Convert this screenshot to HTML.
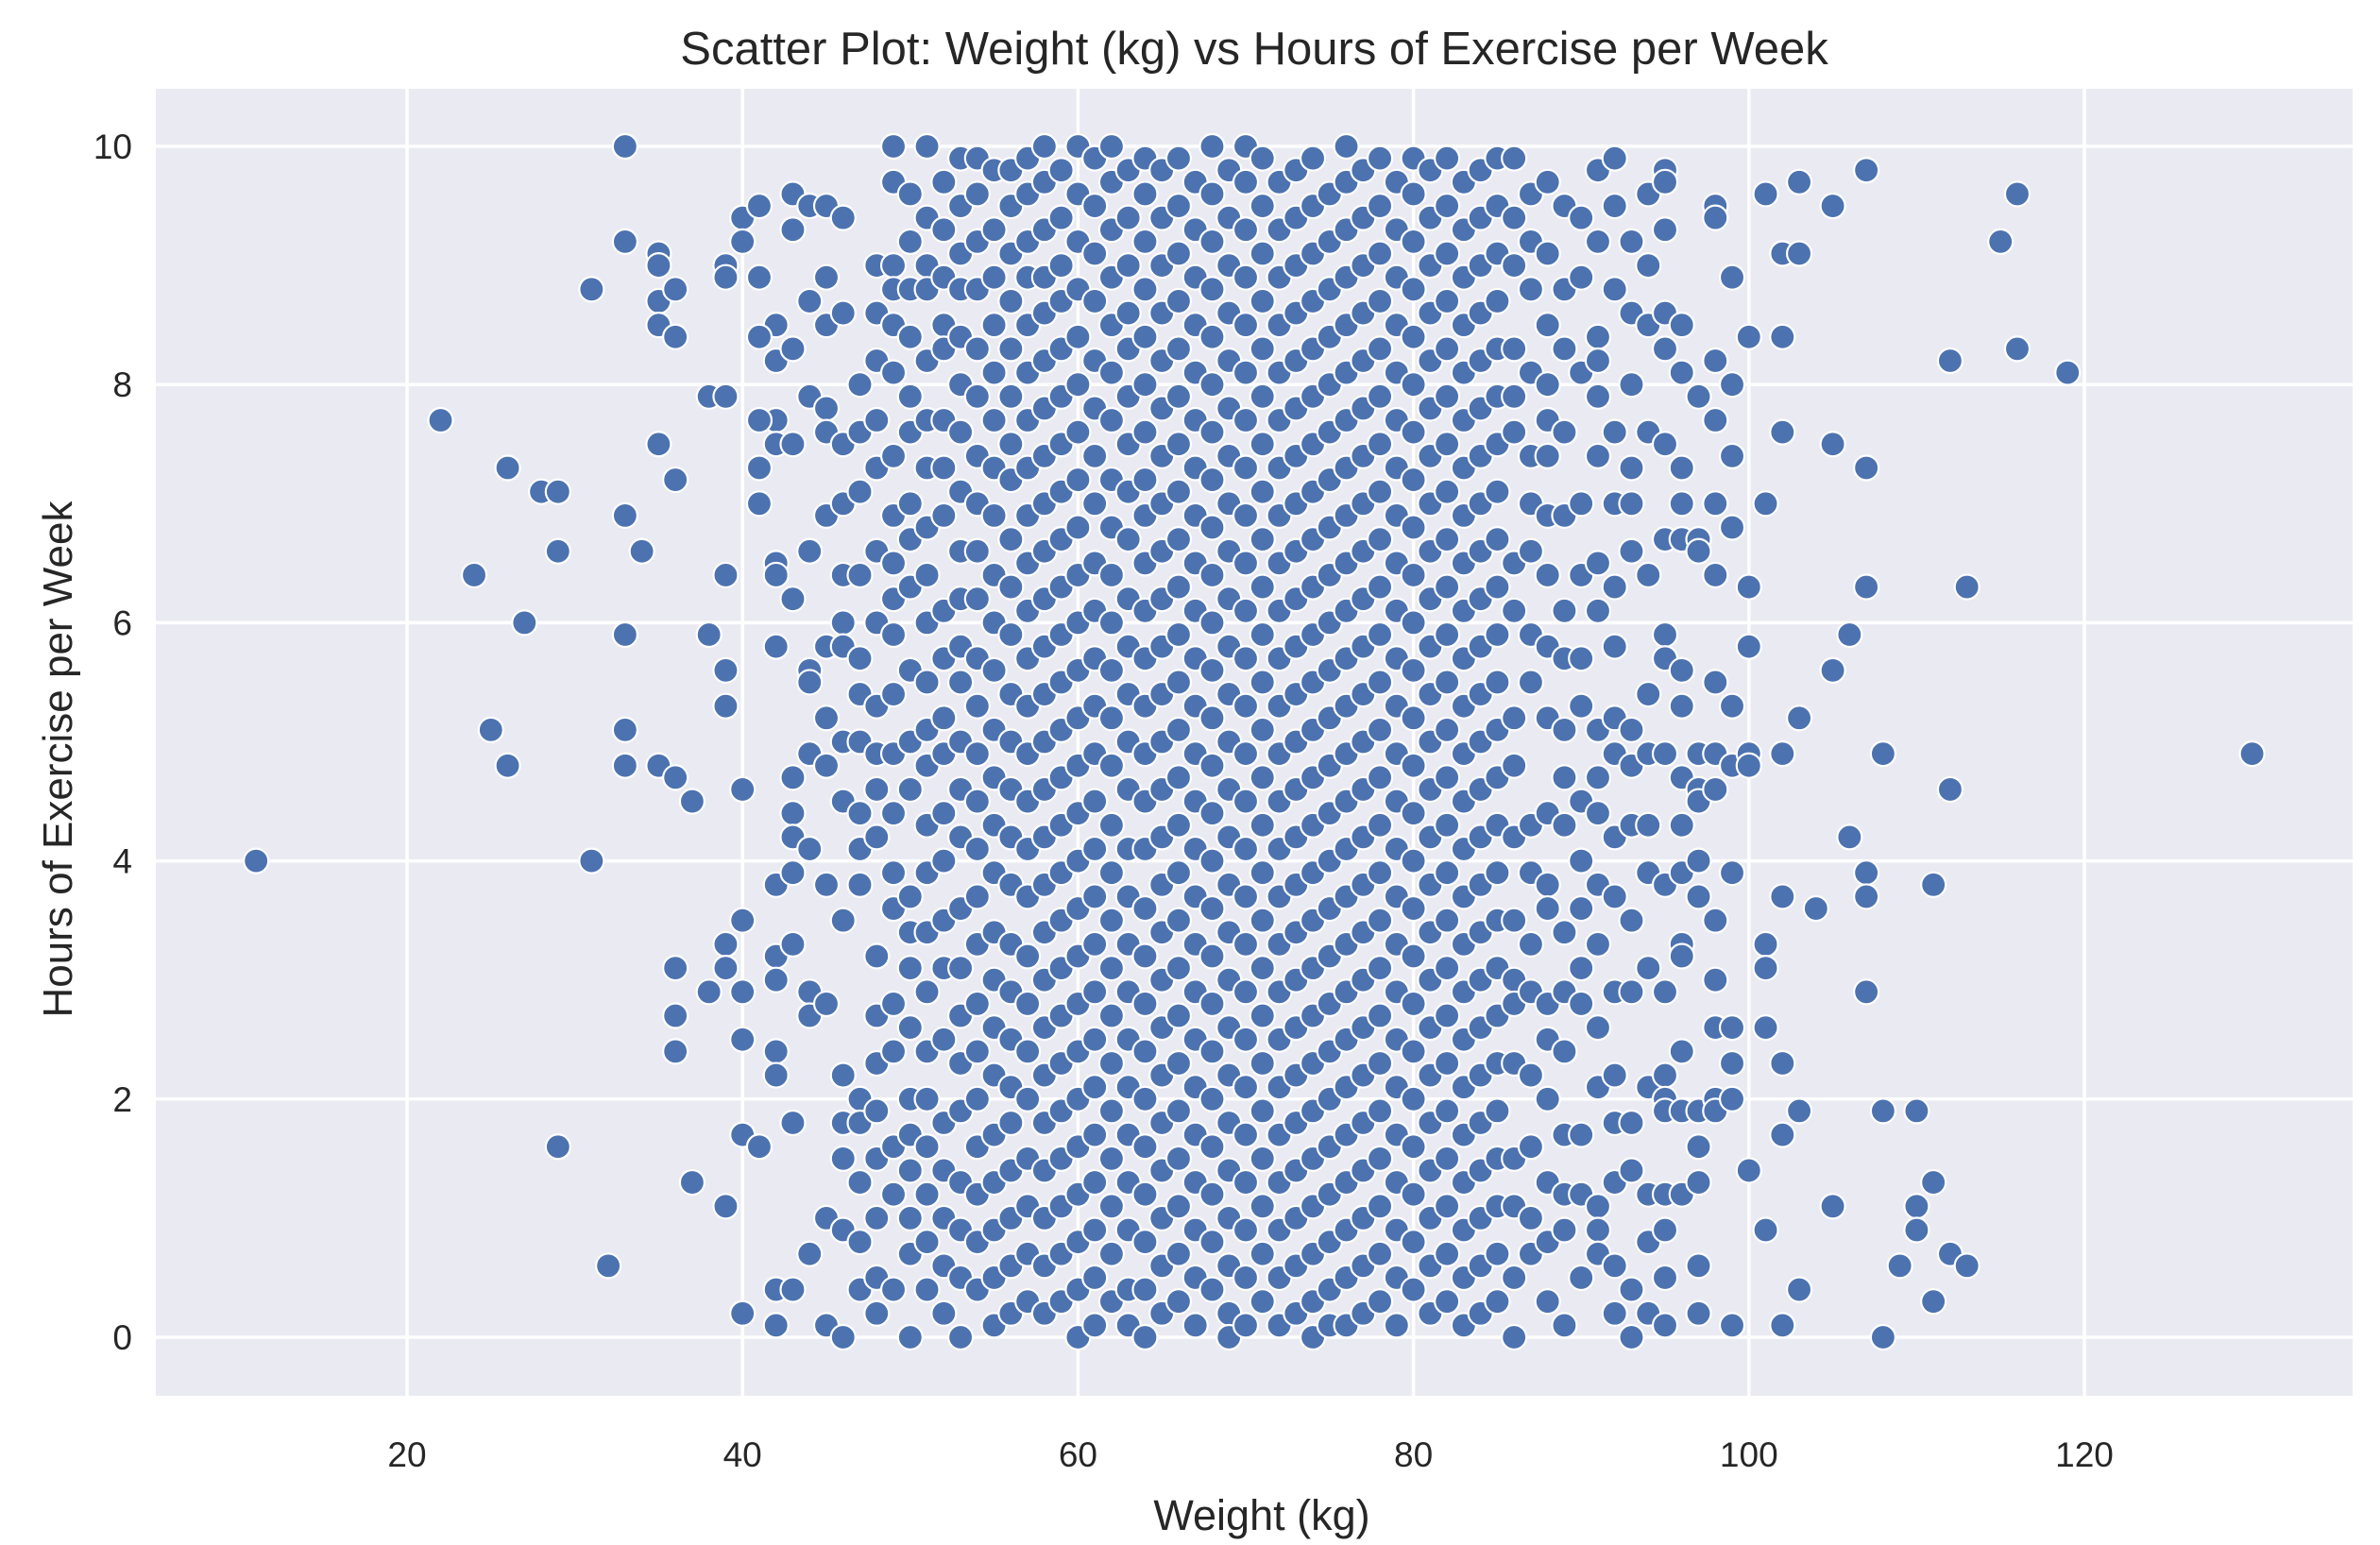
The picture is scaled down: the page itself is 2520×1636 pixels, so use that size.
<!DOCTYPE html>
<html><head><meta charset="utf-8"><style>
html,body{margin:0;padding:0;background:#fff}
svg{display:block}
text{font-family:"Liberation Sans",Arial,sans-serif;fill:#262626}
</style></head><body>
<svg id="chart" width="2520" height="1636" viewBox="0 0 2520 1636">
<rect x="165" y="94" width="2326" height="1384" fill="#EAEAF2"/>
<g id="grid"></g>
<g id="pts"></g>
<g id="ticks"></g>
<text x="1328" y="68" text-anchor="middle" font-size="49">Scatter Plot: Weight (kg) vs Hours of Exercise per Week</text>
<text x="1336" y="1620" text-anchor="middle" font-size="45">Weight (kg)</text>
<text transform="translate(76,804) rotate(-90)" text-anchor="middle" font-size="44">Hours of Exercise per Week</text>
</svg>
<script>
const xTicks=[20,40,60,80,100,120];
const yTicks=[0,2,4,6,8,10];
const outlierW=[11,22,24,25,26,26,27,28,29,29,29,31,31,32,33,33,33,33,33,33,34,35,35,35,35,35,35,36,36,36,36,36,36,36,37,37,38,38,38,39,39,39,39,39,39,39,39,39,40,40,40,40,40,40,40,40,41,41,41,41,41,41,41,
100,100,100,100,100,100,101,101,101,101,101,101,102,102,102,102,102,102,102,102,103,103,103,103,103,104,105,105,105,105,106,106,107,107,107,107,107,107,108,108,108,109,110,110,110,111,111,111,112,112,112,113,113,115,116,116,119,130];
const outlierH=[4,7.7,6.4,5.1,7.3,4.8,6,7.1,7.1,6.6,1.6,8.8,4,0.6,10,9.2,6.9,5.9,5.1,4.8,6.6,9.1,9,8.7,8.5,7.5,4.8,8.8,8.4,7.2,4.7,3.1,2.7,2.4,4.5,1.3,7.9,5.9,2.9,9,8.9,7.9,6.4,5.6,5.3,3.3,3.1,1.1,9.4,9.2,4.6,3.5,2.9,2.5,1.7,0.2,9.5,8.9,8.4,7.7,7.3,7,1.6,
8.4,6.3,5.8,4.9,4.8,1.4,9.6,7,3.3,3.1,2.6,0.9,9.1,8.4,7.6,4.9,3.7,2.3,1.7,0.1,9.7,9.1,5.2,1.9,0.4,3.6,9.5,7.5,5.6,1.1,5.9,4.2,9.8,7.3,6.3,3.9,3.7,2.9,4.9,1.9,0,0.6,1.9,1.1,0.9,3.8,1.3,0.3,8.2,4.6,0.7,6.3,0.6,9.2,9.6,8.3,8.1,4.9];
const coreW=[42,43,44,45,46,47,48,49,50,51,52,53,54,55,56,57,58,59,60,61,62,63,64,65,66,67,68,69,70,71,72,73,74,75,76,77,78,79,80,81,82,83,84,85,86,87,88,89,90,91,92,93,94,95,96,97,98,99];
const coreH=[
[8.5,8.2,7.7,7.5,6.5,6.4,5.8,3.8,3.2,3.0,2.4,2.2,0.4,0.1],
[9.6,9.3,8.3,7.5,6.2,4.7,4.4,4.2,3.9,3.3,1.8,0.4],
[9.5,8.7,7.9,6.6,5.6,5.5,4.9,4.1,2.9,2.7,0.7],
[9.5,8.9,8.5,7.8,7.6,6.9,5.8,5.2,4.8,3.8,2.8,1.0,0.1],
[9.4,8.6,7.5,7.0,6.4,6.0,5.8,5.0,4.5,3.5,2.2,1.8,1.5,0.9,0.0],
[8.0,7.6,7.1,6.4,5.7,5.4,5.0,4.4,4.1,3.8,2.0,1.8,1.3,0.8,0.4],
[9.0,8.6,8.2,7.7,7.3,6.6,6.0,5.3,4.9,4.6,4.2,3.2,2.7,2.3,1.9,1.5,1.0,0.5,0.2],
[10.0,9.7,9.0,8.8,8.5,8.1,7.4,6.9,6.5,6.2,5.9,5.4,4.9,4.4,3.9,3.6,2.8,2.4,1.6,1.2,0.4],
[9.6,9.2,8.8,8.4,7.9,7.6,7.0,6.7,6.3,5.6,5.0,4.6,3.7,3.4,3.1,2.6,2.0,1.7,1.4,1.0,0.7,0.0],
[10.0,9.4,9.0,8.8,8.2,7.7,7.3,6.8,6.4,6.0,5.5,5.1,4.8,4.3,3.9,3.4,2.9,2.4,2.0,1.6,1.2,0.8,0.4],
[9.7,9.3,8.9,8.5,8.3,7.7,7.3,6.9,6.1,5.7,5.2,4.9,4.4,4.0,3.5,3.1,2.5,1.8,1.4,1.0,0.6,0.2],
[9.9,9.5,9.1,8.8,8.4,8.0,7.6,7.1,6.6,6.2,5.8,5.5,5.0,4.6,4.2,3.6,3.1,2.7,2.3,1.9,1.3,0.9,0.5,0.0],
[9.9,9.6,9.2,8.8,8.3,7.9,7.4,7.0,6.6,6.2,5.7,5.3,4.9,4.5,4.1,3.7,3.3,2.8,2.4,2.0,1.6,1.2,0.8,0.4],
[9.8,9.3,8.9,8.5,8.1,7.7,7.3,6.9,6.4,6.0,5.6,5.1,4.7,4.3,3.9,3.4,3.0,2.6,2.2,1.7,1.3,0.9,0.5,0.1],
[9.8,9.5,9.1,8.7,8.3,7.9,7.5,7.2,6.7,6.3,5.9,5.4,5.0,4.6,4.2,3.8,3.3,2.9,2.5,2.1,1.8,1.4,1.0,0.6,0.2],
[9.9,9.6,9.2,8.9,8.5,8.1,7.7,7.3,6.9,6.5,6.1,5.7,5.3,4.9,4.5,4.1,3.7,3.2,2.8,2.4,2.0,1.5,1.1,0.7,0.3],
[10.0,9.7,9.3,8.9,8.6,8.2,7.8,7.4,7.0,6.6,6.2,5.8,5.4,5.0,4.6,4.2,3.8,3.4,3.0,2.6,2.2,1.8,1.4,1.0,0.6,0.2],
[9.8,9.4,9.0,8.7,8.3,7.9,7.5,7.1,6.7,6.3,5.9,5.5,5.1,4.7,4.3,3.9,3.5,3.1,2.7,2.3,1.9,1.5,1.1,0.7,0.3],
[10.0,9.6,9.2,8.8,8.4,8.0,7.6,7.2,6.8,6.4,6.0,5.6,5.2,4.8,4.4,4.0,3.6,3.2,2.8,2.4,2.0,1.6,1.2,0.8,0.4,0.0],
[9.9,9.5,9.1,8.7,8.2,7.8,7.4,7.0,6.5,6.1,5.7,5.3,4.9,4.5,4.1,3.7,3.3,2.9,2.5,2.1,1.7,1.3,0.9,0.5,0.1],
[10.0,9.7,9.3,8.9,8.5,8.1,7.7,7.2,6.8,6.4,6.0,5.6,5.2,4.8,4.3,3.9,3.5,3.1,2.7,2.3,1.9,1.5,1.1,0.7,0.3],
[9.8,9.4,9.0,8.6,8.3,7.9,7.5,7.1,6.7,6.2,5.8,5.4,5.0,4.6,4.1,3.7,3.3,2.9,2.5,2.1,1.7,1.3,0.9,0.4,0.1],
[9.9,9.6,9.2,8.8,8.4,8.0,7.6,7.2,6.9,6.5,6.1,5.7,5.3,4.9,4.5,4.1,3.6,3.2,2.8,2.4,2.0,1.6,1.2,0.8,0.4,0.0],
[9.8,9.4,9.0,8.6,8.2,7.8,7.4,7.0,6.6,6.2,5.8,5.4,5.0,4.6,4.2,3.8,3.4,3.0,2.6,2.2,1.8,1.4,1.0,0.6,0.2],
[9.9,9.5,9.1,8.7,8.3,7.9,7.5,7.1,6.7,6.3,5.9,5.5,5.1,4.7,4.3,3.9,3.5,3.1,2.7,2.3,1.9,1.5,1.1,0.7,0.3],
[9.7,9.3,8.9,8.5,8.1,7.7,7.3,6.9,6.5,6.1,5.7,5.3,4.9,4.5,4.1,3.7,3.3,2.9,2.5,2.1,1.7,1.3,0.9,0.5,0.1],
[10.0,9.6,9.2,8.8,8.4,8.0,7.6,7.2,6.8,6.4,6.0,5.6,5.2,4.8,4.4,4.0,3.6,3.2,2.8,2.4,2.0,1.6,1.2,0.8,0.4],
[9.8,9.4,9.0,8.6,8.2,7.8,7.4,7.0,6.6,6.2,5.8,5.4,5.0,4.6,4.2,3.8,3.4,3.0,2.6,2.2,1.8,1.4,1.0,0.6,0.2,0.0],
[10.0,9.7,9.3,8.9,8.5,8.1,7.7,7.3,6.9,6.5,6.1,5.7,5.3,4.9,4.5,4.1,3.7,3.3,2.9,2.5,2.1,1.7,1.3,0.9,0.5,0.1],
[9.9,9.5,9.1,8.7,8.3,7.9,7.5,7.1,6.7,6.3,5.9,5.5,5.1,4.7,4.3,3.9,3.5,3.1,2.7,2.3,1.9,1.5,1.1,0.7,0.3],
[9.7,9.3,8.9,8.5,8.1,7.7,7.3,6.9,6.5,6.1,5.7,5.3,4.9,4.5,4.1,3.7,3.3,2.9,2.5,2.1,1.7,1.3,0.9,0.5,0.1],
[9.8,9.4,9.0,8.6,8.2,7.8,7.4,7.0,6.6,6.2,5.8,5.4,5.0,4.6,4.2,3.8,3.4,3.0,2.6,2.2,1.8,1.4,1.0,0.6,0.2],
[9.9,9.5,9.1,8.7,8.3,7.9,7.5,7.1,6.7,6.3,5.9,5.5,5.1,4.7,4.3,3.9,3.5,3.1,2.7,2.3,1.9,1.5,1.1,0.7,0.3,0.0],
[9.6,9.2,8.8,8.4,8.0,7.6,7.2,6.8,6.4,6.0,5.6,5.2,4.8,4.4,4.0,3.6,3.2,2.8,2.4,2.0,1.6,1.2,0.8,0.4,0.1],
[10.0,9.7,9.3,8.9,8.5,8.1,7.7,7.3,6.9,6.5,6.1,5.7,5.3,4.9,4.5,4.1,3.7,3.3,2.9,2.5,2.1,1.7,1.3,0.9,0.5,0.1],
[9.8,9.4,9.0,8.6,8.2,7.8,7.4,7.0,6.6,6.2,5.8,5.4,5.0,4.6,4.2,3.8,3.4,3.0,2.6,2.2,1.8,1.4,1.0,0.6,0.2],
[9.9,9.5,9.1,8.7,8.3,7.9,7.5,7.1,6.7,6.3,5.9,5.5,5.1,4.7,4.3,3.9,3.5,3.1,2.7,2.3,1.9,1.5,1.1,0.7,0.3],
[9.7,9.3,8.9,8.5,8.1,7.7,7.3,6.9,6.5,6.1,5.7,5.3,4.9,4.5,4.1,3.7,3.3,2.9,2.5,2.1,1.7,1.3,0.9,0.5,0.1],
[9.9,9.6,9.2,8.8,8.4,8.0,7.6,7.2,6.8,6.4,6.0,5.6,5.2,4.8,4.4,4.0,3.6,3.2,2.8,2.4,2.0,1.6,1.2,0.8,0.4],
[9.8,9.4,9.0,8.6,8.2,7.8,7.4,7.0,6.6,6.2,5.8,5.4,5.0,4.6,4.2,3.8,3.4,3.0,2.6,2.2,1.8,1.4,1.0,0.6,0.2],
[9.9,9.5,9.1,8.7,8.3,7.9,7.5,7.1,6.7,6.3,5.9,5.5,5.1,4.7,4.3,3.9,3.5,3.1,2.7,2.3,1.9,1.5,1.1,0.7,0.3],
[9.7,9.3,8.9,8.5,8.1,7.7,7.3,6.9,6.5,6.1,5.7,5.3,4.9,4.5,4.1,3.7,3.3,2.9,2.5,2.1,1.7,1.3,0.9,0.5,0.1],
[9.8,9.4,9.0,8.6,8.2,7.8,7.4,7.0,6.6,6.2,5.8,5.4,5.0,4.6,4.2,3.8,3.4,3.0,2.6,2.2,1.8,1.4,1.0,0.6,0.2],
[9.9,9.5,9.1,8.7,8.3,7.9,7.5,7.1,6.7,6.3,5.9,5.5,5.1,4.7,4.3,3.9,3.5,3.1,2.7,2.3,1.9,1.5,1.1,0.7,0.3],
[9.9,9.4,9.0,8.3,7.9,7.6,6.5,6.1,5.2,4.8,4.2,3.5,3.0,2.8,2.3,1.5,1.1,0.5,0.0],
[9.6,9.2,8.8,8.1,7.4,7.0,6.6,5.9,5.5,4.3,3.9,3.3,2.9,2.2,1.6,1.0,0.7],
[9.7,9.1,8.5,8.0,7.7,7.4,6.9,6.4,5.8,5.2,4.4,3.8,3.6,2.8,2.5,2.0,1.3,0.8,0.3],
[9.5,8.8,8.3,7.6,6.9,6.1,5.7,5.1,4.7,4.3,3.4,2.9,2.4,1.7,1.2,0.9,0.1],
[9.4,8.9,8.1,7.0,6.4,5.7,5.3,4.5,4.0,3.6,3.1,2.8,1.7,1.2,0.5],
[9.8,9.2,8.4,8.2,7.9,7.4,6.5,6.1,5.1,4.7,4.4,3.8,3.3,2.6,2.1,1.1,0.9,0.7],
[9.9,9.5,8.8,7.6,7.0,6.3,5.8,5.2,4.9,4.2,3.7,2.9,2.2,1.8,1.3,0.6,0.2],
[9.2,8.6,8.0,7.3,7.0,6.6,5.1,4.8,4.3,3.5,2.9,1.8,1.4,0.4,0.0],
[9.6,9.0,8.5,7.6,6.4,5.4,4.9,4.3,3.9,3.1,2.1,1.2,0.8,0.2],
[9.8,9.7,9.3,8.6,8.3,7.5,6.7,5.9,5.7,4.9,3.8,2.9,2.2,2.0,1.9,1.2,0.9,0.5,0.1],
[8.5,8.1,7.3,7.0,6.7,5.6,5.3,4.7,4.3,3.9,3.3,3.2,2.4,1.9,1.2],
[7.9,6.7,6.6,4.9,4.6,4.5,4.0,3.7,1.9,1.6,1.3,0.6,0.2],
[9.5,9.4,8.2,7.7,7.0,6.4,5.5,4.9,4.6,3.5,3.0,2.6,2.0,1.9],
[8.9,8.0,7.4,6.8,5.3,4.8,3.9,2.6,2.3,2.0,0.1]];
const X0=431, X1=2207, Y0=1416, Y1=155;
function sx(v){return X0+(v-20)*(X1-X0)/100;}
function sy(v){return Y0+(v-0)*(Y1-Y0)/10;}
const NS='http://www.w3.org/2000/svg';
const grid=document.getElementById('grid'), ticks=document.getElementById('ticks'), pts=document.getElementById('pts');
xTicks.forEach(t=>{
  const l=document.createElementNS(NS,'line');
  l.setAttribute('x1',sx(t));l.setAttribute('x2',sx(t));l.setAttribute('y1',94);l.setAttribute('y2',1478);
  l.setAttribute('stroke','#fff');l.setAttribute('stroke-width','3.5');
  
  
  grid.appendChild(l);
  const tx=document.createElementNS(NS,'text');
  tx.setAttribute('x',sx(t));tx.setAttribute('y',1553);tx.setAttribute('text-anchor','middle');tx.setAttribute('font-size','37');
  tx.textContent=t;
  
  
  ticks.appendChild(tx);
});
yTicks.forEach(t=>{
  const l=document.createElementNS(NS,'line');
  l.setAttribute('x1',165);l.setAttribute('x2',2491);l.setAttribute('y1',sy(t));l.setAttribute('y2',sy(t));
  l.setAttribute('stroke','#fff');l.setAttribute('stroke-width','3.5');
  
  
  grid.appendChild(l);
  const tx=document.createElementNS(NS,'text');
  tx.setAttribute('x',140);tx.setAttribute('y',sy(t)+13);tx.setAttribute('text-anchor','end');tx.setAttribute('font-size','37');
  tx.textContent=t;
  
  
  ticks.appendChild(tx);
});
function dot(w,h){
  const c=document.createElementNS(NS,'circle');
  c.setAttribute('cx',sx(w));c.setAttribute('cy',sy(h));c.setAttribute('r','13');
  c.setAttribute('fill','#4C72B0');c.setAttribute('stroke','#fff');c.setAttribute('stroke-width','2.2');
  
  
  pts.appendChild(c);
}
coreW.forEach((w,i)=>coreH[i].forEach(h=>dot(w,h)));
outlierW.forEach((w,i)=>dot(w,outlierH[i]));
</script>
</body></html>
